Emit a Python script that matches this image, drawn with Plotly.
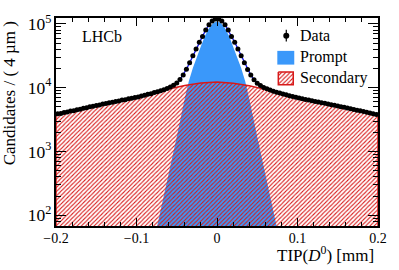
import numpy as np
import plotly.graph_objects as go

# ---------------- data ----------------
bin_width = 0.004
bin_centers = [round(-0.198 + bin_width * i, 3) for i in range(100)]

data_counts = [
    3890, 3930, 4080, 4140, 4300, 4360, 4520, 4590, 4760, 4840,
    5010, 5090, 5260, 5340, 5530, 5620, 5800, 5890, 6090, 6180,
    6390, 6480, 6700, 6800, 7030, 7150, 7420, 7580, 7870, 8050,
    8360, 8600, 8950, 9270, 9720, 10220, 10890, 11850, 13370, 15830,
    19430, 24620, 31710, 40300, 51500, 63650, 80150, 97150, 110750, 118950,
    118950, 110730, 97120, 80110, 63600, 51450, 40240, 31630, 24530, 19340,
    15730, 13270, 11750, 10780, 10100, 9594, 9173, 8817, 8505, 8220,
    7962, 7721, 7482, 7265, 7054, 6866, 6700, 6539, 6381, 6228,
    6081, 5943, 5808, 5675, 5546, 5415, 5285, 5158, 5034, 4913,
    4792, 4672, 4555, 4441, 4330, 4222, 4114, 4009, 3907, 3807,
]

prompt_x = [-0.09, -0.08, -0.07, -0.06, -0.05, -0.04, -0.035, -0.03, -0.025, -0.02,
            -0.015, -0.01, -0.005, 0.0, 0.005, 0.01, 0.015, 0.02, 0.025, 0.03,
            0.035, 0.04, 0.05, 0.06, 0.07, 0.08, 0.09]
prompt_y = [8, 32, 117, 447, 1700, 6760, 12600, 20400, 30900, 44700,
            64600, 85100, 102300, 109600, 102300, 85100, 64600, 44700, 30900, 20400,
            12600, 6760, 1700, 447, 117, 32, 8]

sec_x = [-0.20, -0.18, -0.16, -0.14, -0.12, -0.10, -0.08, -0.06, -0.04, -0.02, 0.0,
         0.02, 0.04, 0.06, 0.08, 0.10, 0.12, 0.14, 0.16, 0.18, 0.20]
sec_y = [3802, 4325, 4920, 5570, 6281, 7079, 8166, 9506, 10839, 11803, 12303,
         11749, 10740, 9397, 8054, 6950, 6152, 5483, 4853, 4276, 3758]

x_ticks = [-0.2, -0.1, 0.0, 0.1, 0.2]
legend_labels = ["Data", "Prompt", "Secondary"]
floor_val = 10  # below visible range, used to close filled areas

# ---------------- figure ----------------
FONT = "Liberation Serif"
RED = "rgb(215,25,25)"
BLUE_FILL = "rgb(58,152,250)"

fig = go.Figure()

# Prompt component (solid blue)
fig.add_trace(go.Scatter(
    x=[prompt_x[0]] + prompt_x + [prompt_x[-1]],
    y=[floor_val] + prompt_y + [floor_val],
    mode="lines", fill="toself", fillcolor=BLUE_FILL,
    line=dict(width=0, color=BLUE_FILL), showlegend=False, hoverinfo="skip",
))

HATCH = dict(shape="/", fgcolor=RED, bgcolor="rgba(0,0,0,0)",
             size=3, solidity=0.35, fillmode="replace")

# Secondary component (red hatch)
fig.add_trace(go.Scatter(
    x=[sec_x[0]] + sec_x + [sec_x[-1]],
    y=[floor_val] + sec_y + [floor_val],
    mode="lines", fill="toself", fillcolor="rgba(0,0,0,0)",
    fillpattern=HATCH, line=dict(width=1.5, color=RED),
    showlegend=False, hoverinfo="skip",
))

# Total fit (blue line)
fig.add_trace(go.Scatter(
    x=bin_centers, y=data_counts, mode="lines",
    line=dict(color="rgb(20,20,235)", width=1.3), showlegend=False, hoverinfo="skip",
))

# Data points
fig.add_trace(go.Scatter(
    x=bin_centers, y=data_counts, mode="markers",
    marker=dict(color="black", size=5),
    error_y=dict(type="data", array=list(np.sqrt(data_counts)), color="black",
                 thickness=1, width=0),
    showlegend=False,
))

# ---------------- legend glyphs on an overlay axis spanning the plot area ----------------
def px_x(p):  # plot-area pixel -> fraction
    return (p - 56) / 323.0

def px_y(p):
    return (226 - p) / 212.0

# Data glyph: dot + vertical bar
fig.add_trace(go.Scatter(
    x=[px_x(287), px_x(287)], y=[px_y(26), px_y(38)], mode="lines",
    line=dict(color="black", width=1.2), xaxis="x2", yaxis="y2",
    showlegend=False, hoverinfo="skip",
))
fig.add_trace(go.Scatter(
    x=[px_x(287)], y=[px_y(32)], mode="markers",
    marker=dict(color="black", size=6), xaxis="x2", yaxis="y2",
    showlegend=False, hoverinfo="skip",
))
# Prompt glyph
fig.add_shape(type="rect", xref="x2", yref="y2",
              x0=px_x(278), x1=px_x(295), y0=px_y(47.5), y1=px_y(61.5),
              fillcolor=BLUE_FILL, line=dict(width=0))
# Secondary glyph (hatched box with red border)
bx = [px_x(279), px_x(294), px_x(294), px_x(279), px_x(279)]
by = [px_y(69), px_y(69), px_y(82), px_y(82), px_y(69)]
fig.add_trace(go.Scatter(
    x=bx, y=by, mode="lines", fill="toself", fillcolor="rgba(0,0,0,0)",
    fillpattern=HATCH, line=dict(color=RED, width=1.5),
    xaxis="x2", yaxis="y2", showlegend=False, hoverinfo="skip",
))
for lab, yy in zip(legend_labels, [32, 54, 75]):
    fig.add_annotation(text=lab, xref="x2", yref="y2", x=px_x(299), y=px_y(yy),
                       xanchor="left", yanchor="middle", showarrow=False,
                       font=dict(family=FONT, size=16, color="black"))

axis_common = dict(
    showline=True, linecolor="black", linewidth=1.5, mirror="allticks",
    ticks="inside", tickcolor="black", showgrid=False, zeroline=False,
    tickfont=dict(family=FONT, size=14, color="black"),
)

fig.update_xaxes(
    range=[-0.2, 0.2], tickvals=x_ticks, ticklen=8, tickwidth=1,
    ticklabelstandoff=-2,
    minor=dict(dtick=0.02, tick0=0, ticks="inside", ticklen=4, tickcolor="black", showgrid=False),
    **axis_common,
)
fig.update_yaxes(
    type="log", range=[1.831, 5.092], dtick=1, exponentformat="power",
    ticklen=10, tickwidth=1,
    minor=dict(dtick="D1", ticks="inside", ticklen=5, tickcolor="black", showgrid=False),
    **axis_common,
)

fig.update_layout(
    xaxis2=dict(overlaying="x", range=[0, 1], visible=False, fixedrange=True),
    yaxis2=dict(overlaying="y", range=[0, 1], visible=False, fixedrange=True),
)

fig.add_annotation(
    text="Candidates / ( 4 µm )", textangle=-90,
    xref="paper", yref="paper", x=-0.145, y=0.995, xanchor="center", yanchor="top",
    showarrow=False, font=dict(family=FONT, size=17, color="black"),
)
fig.add_annotation(
    text="TIP(<i>D</i><sup>0</sup>) [mm]",
    xref="paper", yref="paper", x=0.995, y=-0.135, xanchor="right", yanchor="middle",
    showarrow=False, font=dict(family=FONT, size=17, color="black"),
)
fig.add_annotation(
    text="LHCb", xref="paper", yref="paper", x=0.074, y=0.91,
    xanchor="left", yanchor="middle", showarrow=False,
    font=dict(family=FONT, size=16, color="black"),
)

fig.update_layout(
    width=399, height=270,
    margin=dict(l=56, r=20, t=14, b=44),
    paper_bgcolor="white", plot_bgcolor="white",
    showlegend=False,
)

fig.write_html("out.html", config={"displayModeBar": False},
               post_script="document.body.style.margin='0px';")
